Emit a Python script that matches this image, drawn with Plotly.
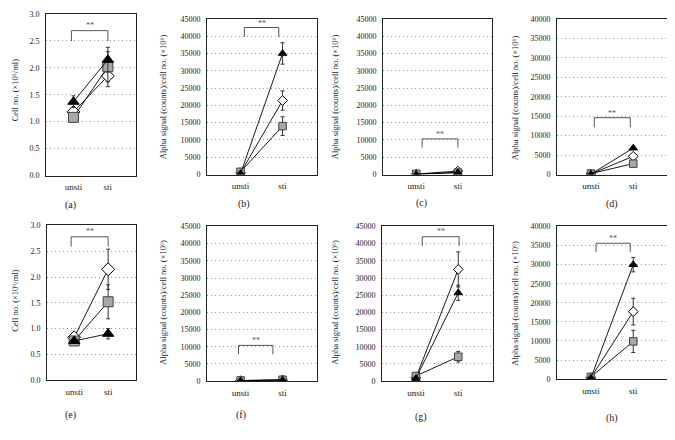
import plotly.graph_objects as go

# ---------------- data (panels a..h) ----------------
categories = ["unsti", "sti"]
panel_labels = ["(a)", "(b)", "(c)", "(d)", "(e)", "(f)", "(g)", "(h)"]

cell_title = "Cell no. (×10⁶/ml)"
alpha_title = "Alpha signal (counts)/cell no. (×10⁶)"
y_titles = [cell_title, alpha_title, alpha_title, alpha_title,
            cell_title, alpha_title, alpha_title, alpha_title]

y_max = [3.0, 45000, 45000, 40000, 3.0, 45000, 45000, 40000]
y_step = [0.5, 5000, 5000, 5000, 0.5, 5000, 5000, 5000]

diamond_unsti = [1.18, 500, 150, 150, 0.83, 150, 1000, 400]
diamond_unsti_sd = [0.05, 200, 50, 50, 0.05, 50, 300, 150]
diamond_sti = [1.85, 21400, 1000, 4700, 2.15, 350, 32500, 17700]
diamond_sti_sd = [0.20, 2800, 300, 500, 0.39, 100, 5100, 3500]

square_unsti = [1.08, 800, 200, 250, 0.76, 200, 1500, 600]
square_unsti_sd = [0.05, 200, 50, 80, 0.05, 50, 300, 200]
square_sti = [2.02, 14000, 550, 2800, 1.52, 400, 7100, 9900]
square_sti_sd = [0.28, 2700, 200, 500, 0.33, 100, 1550, 2900]

triangle_unsti = [1.37, 300, 50, 100, 0.76, 100, 800, 300]
triangle_unsti_sd = [0.11, 100, 30, 50, 0.04, 30, 200, 100]
triangle_sti = [2.15, 35000, 600, 6800, 0.90, 300, 25700, 30000]
triangle_sti_sd = [0.23, 3100, 200, 300, 0.10, 100, 2200, 1900]

# significance brackets ("**"), x given as category index
bracket_x0 = [-0.06, 0.09, 0.14, 0.08, -0.09, -0.05, 0.15, 0.12]
bracket_x1 = [1.00, 0.91, 1.00, 0.93, 1.00, 0.77, 1.02, 0.93]
bracket_top = [2.69, 42500, 10300, 14600, 2.78, 10400, 42000, 35600]
bracket_leg = [2.50, 39800, 7800, 12100, 2.59, 7800, 39300, 33300]
star_y = [2.79, 43800, 11500, 15800, 2.88, 11700, 43600, 36900]

# ---------------- layout geometry (page pixels) ----------------
PAGE_W, PAGE_H = 675, 440
OFF = 8                      # default body margin of the html page
W, H = PAGE_W - OFF, PAGE_H - OFF
# plot boxes on the page: (left, right, top, bottom)
boxes = [(46, 136, 10, 175), (207, 317, 15, 174), (383, 492, 15, 174), (557, 668, 15, 174),
         (47, 136, 226, 384), (207, 317, 227, 385), (382, 493, 227, 385), (557, 668, 227, 383)]
title_pos = [(15, 88), (163, 95), (335, 95), (515, 95),
             (15, 303), (163, 305), (335, 305), (515, 305)]
label_pos = [(70, 205), (244, 204), (421, 203), (612, 204),
             (70, 420), (241, 420), (421, 422), (612, 423)]


def fx(px):
    return (px - OFF) / W


def fy(py):
    return 1 - (py - OFF) / H


SERIF = "Liberation Serif"
fig = go.Figure()
annotations = []
shapes = []

for i in range(8):
    l, r, t, b = boxes[i]
    ax = "" if i == 0 else str(i + 1)
    xa, ya = "x" + ax, "y" + ax
    big = i in (0, 4)
    msize = 10 if big else 7.5

    series = [
        (diamond_unsti, diamond_unsti_sd, diamond_sti, diamond_sti_sd,
         "diamond", "white", "black"),
        (square_unsti, square_unsti_sd, square_sti, square_sti_sd,
         "square", "#a8a8a8", "#404040"),
        (triangle_unsti, triangle_unsti_sd, triangle_sti, triangle_sti_sd,
         "triangle-up", "black", "black"),
    ]
    for u, usd, s, ssd, sym, fill, edge in series:
        fig.add_trace(go.Scatter(
            x=categories, y=[u[i], s[i]], xaxis=xa, yaxis=ya,
            mode="lines+markers",
            line=dict(color="black", width=0.9),
            marker=dict(symbol=sym, size=msize, color=fill,
                        line=dict(color=edge, width=1)),
            error_y=dict(type="data", array=[usd[i], ssd[i]],
                         color="#333333", thickness=1, width=2),
            showlegend=False, hoverinfo="skip"))

    # bracket
    bl = dict(color="#555555", width=1)
    shapes.append(dict(type="line", xref=xa, yref=ya, x0=bracket_x0[i], x1=bracket_x1[i],
                       y0=bracket_top[i], y1=bracket_top[i], line=bl))
    shapes.append(dict(type="line", xref=xa, yref=ya, x0=bracket_x0[i], x1=bracket_x0[i],
                       y0=bracket_leg[i], y1=bracket_top[i], line=bl))
    shapes.append(dict(type="line", xref=xa, yref=ya, x0=bracket_x1[i], x1=bracket_x1[i],
                       y0=bracket_leg[i], y1=bracket_top[i], line=bl))
    annotations.append(dict(
        x=(bracket_x0[i] + bracket_x1[i]) / 2, y=star_y[i], xref=xa, yref=ya,
        text="**", showarrow=False, font=dict(family=SERIF, size=8, color="#555555")))

    xkey = "xaxis" + ax
    ykey = "yaxis" + ax
    fig.layout[xkey] = dict(
        type="category", categoryorder="array", categoryarray=categories,
        domain=[fx(l), fx(r)], anchor=ya, range=[-0.8, 1.82],
        ticks="outside", ticklen=3, tickcolor="rgba(0,0,0,0)",
        showgrid=False, zeroline=False, showline=True, mirror=True,
        linecolor="#222222", linewidth=1,
        tickfont=dict(family=SERIF, size=9, color="#222222"), fixedrange=True)
    fig.layout[ykey] = dict(
        domain=[fy(b), fy(t)], anchor=xa, range=[0, y_max[i]],
        dtick=y_step[i], tick0=0, tickformat=".1f" if big else "d",
        ticks="outside", ticklen=4, tickcolor="rgba(0,0,0,0)",
        showgrid=True, gridcolor="#9a9a9a", griddash="1px,3px", gridwidth=1,
        zeroline=False, showline=True, mirror=True,
        linecolor="#222222", linewidth=1,
        tickfont=dict(family=SERIF, size=8, color="#222222"), fixedrange=True)

    tx, ty = title_pos[i]
    annotations.append(dict(
        x=fx(tx), y=fy(ty), xref="paper", yref="paper", text=y_titles[i],
        textangle=-90, showarrow=False, xanchor="center", yanchor="middle",
        font=dict(family=SERIF, size=8.5, color="#222222")))
    lx, ly = label_pos[i]
    annotations.append(dict(
        x=fx(lx), y=fy(ly), xref="paper", yref="paper", text=panel_labels[i],
        showarrow=False, xanchor="center", yanchor="middle",
        font=dict(family=SERIF, size=10, color="#222222")))

fig.update_layout(
    width=W, height=H, margin=dict(l=0, r=0, t=0, b=0),
    paper_bgcolor="white", plot_bgcolor="white",
    annotations=annotations, shapes=shapes, showlegend=False)

fig.write_html("out.html", config={"displayModeBar": False})
